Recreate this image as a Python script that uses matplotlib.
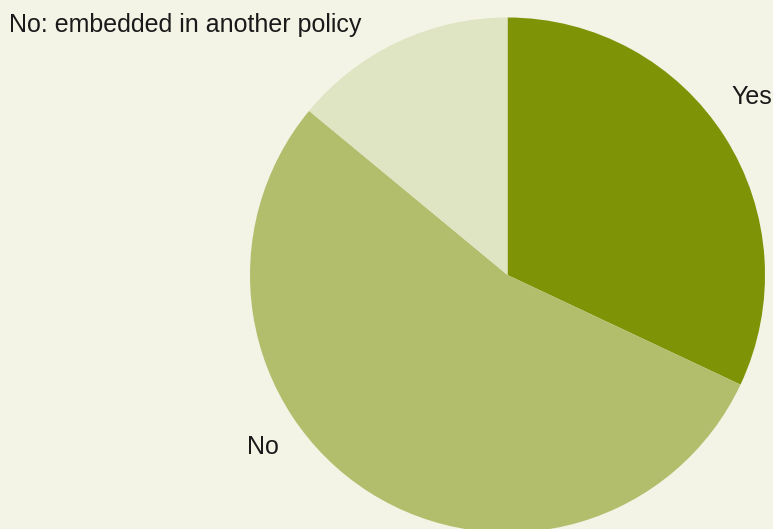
import matplotlib
matplotlib.use("Agg")
import matplotlib.pyplot as plt

# slice data, clockwise from 12 o'clock
labels = ["Yes", "No", "No: embedded in another policy"]
shares = [32, 54, 14]
colors = ["#7f9307", "#b2be6c", "#dfe4c2"]

BG = "#f3f4e6"

plt.rcParams["font.family"] = ["Liberation Sans", "DejaVu Sans"]

fig = plt.figure(figsize=(7.73, 5.29), dpi=100, facecolor=BG)
ax = fig.add_axes([0, 0, 1, 1])
ax.set_facecolor(BG)

ax.pie(shares, colors=colors, startangle=90, counterclock=False,
       center=(507.5, 254), radius=257.5, frame=True,
       wedgeprops={"linewidth": 0})
ax.set_xlim(0, 773)
ax.set_ylim(0, 529)
ax.set_aspect("equal")
ax.axis("off")

# label positions (pixel coordinates, y up)
label_pos = [(731, 432), (247, 82), (9, 504)]
for text, (x, y) in zip(labels, label_pos):
    ax.text(x, y, text, ha="left", va="center", fontsize=18, color="#1a1a1a")

fig.savefig("out.png", dpi=100, facecolor=BG)
